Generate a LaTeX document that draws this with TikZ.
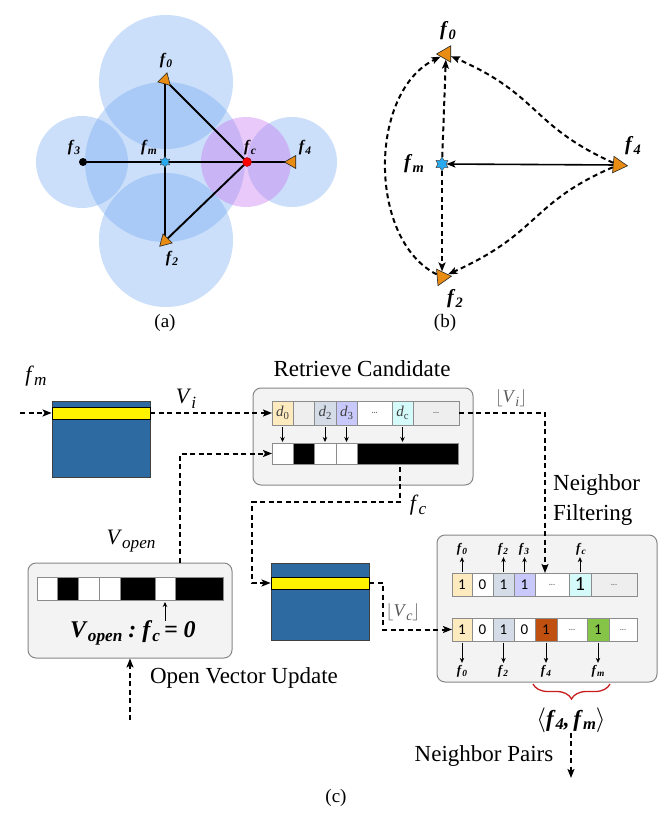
\documentclass[tikz,border=0pt]{standalone}
\usepackage{fontspec}
\setmainfont{Liberation Serif}
\newfontfamily\cellfont{Carlito}
\usetikzlibrary{shapes.geometric,arrows.meta,decorations.pathreplacing}
\definecolor{boxblue}{RGB}{46,106,162}
\definecolor{cirblue}{RGB}{100,160,240}
\definecolor{cirpurp}{RGB}{200,120,240}
\definecolor{triorange}{RGB}{232,140,20}
\definecolor{starblue}{RGB}{40,170,240}
\definecolor{panelgray}{RGB}{243,243,243}
\definecolor{paneledge}{RGB}{135,135,135}
\definecolor{cyel}{RGB}{253,234,190}
\definecolor{cgray}{RGB}{238,238,238}
\definecolor{cblue}{RGB}{212,220,232}
\definecolor{clav}{RGB}{200,200,250}
\definecolor{ccyan}{RGB}{212,250,250}
\definecolor{corange}{RGB}{192,80,16}
\definecolor{cgreen}{RGB}{134,196,72}
\definecolor{bracered}{RGB}{200,30,30}
\newcommand{\myBI}[2]{\textbf{\textit{#1}}\raisebox{-0.35ex}{\scalebox{0.72}{\textbf{\textit{#2}}}}}
\newcommand{\myIt}[2]{\textit{#1}\raisebox{-0.45ex}{\scalebox{0.78}{\textit{#2}}}}
\newcommand{\myDd}[1]{\textit{d}\raisebox{-0.4ex}{\scalebox{0.72}{#1}}}
\newcommand{\myDots}{{\color{black!55}\fontsize{8}{8}\selectfont\textbf{...}}}
\pgfdeclarelayer{backl}
\pgfdeclarelayer{midl}
\pgfsetlayers{backl,midl,main}
\begin{document}
\begin{tikzpicture}[x=1pt,y=-1pt,
  cir/.style={fill=cirblue,fill opacity=0.33,draw=none},
  edgeA/.style={line width=1.9pt,black},
  tri/.style={regular polygon,regular polygon sides=3,fill=triorange,draw=black!85,line width=0.6pt,inner sep=0pt},
  hexstar/.style={star,star points=6,star point ratio=1.7,fill=starblue,draw=black!70,line width=0.5pt,inner sep=0pt},
  dashln/.style={black,dash pattern=on 5pt off 3.5pt,line width=2pt},
  arrw/.style={-{Stealth[length=9pt,width=7pt,inset=2pt]}},
  sarrw/.style={-{Stealth[length=5pt,width=4.5pt]},line width=0.8pt},
  lab/.style={inner sep=0pt},
  fa/.style={lab,font=\fontsize{16}{16}\selectfont},
  fb/.style={lab,font=\fontsize{20}{20}\selectfont},
  fn/.style={lab,font=\fontsize{13}{13}\selectfont},
  biglab/.style={lab,font=\fontsize{23}{23}\selectfont},
  midlab/.style={lab,font=\fontsize{22}{22}\selectfont},
  caplab/.style={lab,font=\fontsize{19}{19}\selectfont},
  cellnd/.style={draw=black!45,line width=0.6pt,inner sep=0pt,outer sep=0pt,font=\cellfont\fontsize{15}{15}\selectfont},
  panel/.style={draw=paneledge,fill=panelgray,line width=1pt,rounded corners=8pt,inner sep=0pt},
  bluebox/.style={draw=black!75,fill=boxblue,line width=0.8pt,inner sep=0pt},
  stripe/.style={draw=black,fill=yellow,line width=0.8pt,inner sep=0pt}
]
\useasboundingbox (0,0) rectangle (670,822);

% ---------------- (a) ----------------
\begin{pgfonlayer}{backl}
\fill[white] (0,0) rectangle (670,822);
\fill[cir] (166,82) circle (67pt);
\fill[cir] (165,162) circle (80pt);
\fill[cir] (166,240) circle (67pt);
\fill[cir] (82,162) circle (46pt);
\fill[cir] (292,162) circle (45pt);
\fill[fill=cirpurp,fill opacity=0.4] (246,162) circle (45pt);
\end{pgfonlayer}
\node[tri,minimum size=15pt,rotate=-15] (a0) at (165,80) {};
\node[hexstar,minimum size=11pt] (am) at (165,162) {};
\node[circle,fill=black,inner sep=0pt,minimum size=8pt] (a3) at (83,162) {};
\node[circle,fill=red,draw=red!60!black,line width=0.4pt,inner sep=0pt,minimum size=9pt] (ac) at (247,162) {};
\node[tri,minimum size=15pt,rotate=-30] (a4) at (292,162) {};
\node[tri,minimum size=15pt,rotate=15] (a2) at (165,241) {};
\begin{pgfonlayer}{midl}
\draw[edgeA] (a3.center) -- (a4.center);
\draw[edgeA] (a0.center) -- (a2.center);
\draw[edgeA] (a0.center) -- (ac.center) -- (a2.center);
\end{pgfonlayer}
\node[fa] (la0) at (166,61) {\myBI{f}{0}};
\node[fa] (la3) at (74,148) {\myBI{f}{3}};
\node[fa] (lam) at (149,148) {\myBI{f}{m}};
\node[fa] (lac) at (250,148) {\myBI{f}{c}};
\node[fa] (la4) at (305,148) {\myBI{f}{4}};
\node[fa] (la2) at (172,259) {\myBI{f}{2}};
\node[caplab] (capa) at (165,323) {(a)};

% ---------------- (b) ----------------
\node[tri,minimum size=19pt,rotate=-30] (b0) at (446,54) {};
\node[hexstar,minimum size=14pt] (bm) at (442,164) {};
\node[tri,minimum size=19pt,rotate=25] (b4) at (618,165) {};
\node[tri,minimum size=19pt,rotate=35] (b2) at (442,277) {};
\draw[line width=1.6pt,arrw] (b4) -- (bm);
\draw[dashln,arrw] (bm) -- (b0);
\draw[dashln,arrw] (bm) -- (b2);
\draw[dashln,arrw] (b4) .. controls (530,125) and (540,95) .. (b0);
\draw[dashln,arrw] (b4) .. controls (530,203) and (540,233) .. (b2);
\draw[dashln,arrw] (b2) .. controls (368,240) and (368,92) .. (b0);
\node[fb] (lb0) at (448,31) {\myBI{f}{0}};
\node[fb] (lbm) at (414,164) {\myBI{f}{m}};
\node[fb] (lb4) at (633,146) {\myBI{f}{4}};
\node[fb] (lb2) at (455,299) {\myBI{f}{2}};
\node[caplab] (capb) at (445,323) {(b)};

% ---------------- (c) ----------------
% blue box 1
\node[bluebox,minimum width=98pt,minimum height=76pt] (bb1) at (101,439) {};
\node[stripe,minimum width=98pt,minimum height=12pt] (st1) at (101,413) {};
\coordinate (fmstart) at (20,413);
\draw[dashln,arrw] (fmstart) -- (st1.west);
\node[midlab] (lfm) at (36,376) {\myIt{f}{m}};
\node[midlab] (lvi) at (186,399) {\myIt{V}{i}};

% retrieve candidate
\node[panel,minimum width=220pt,minimum height=97pt] (rbox) at (363,436.5) {};
\node[biglab] (rtitle) at (362,369) {Retrieve Candidate};
\foreach \xa/\xb/\cl/\tx [count=\i] in {272/293/cyel/\myDd{0},293/314/cgray/,314/336/cblue/\myDd{2},336/357/clav/\myDd{3},357/392/white/\myDots,392/413/ccyan/\myDd{c},413/459/cgray/\myDots}{
  \node[cellnd,fill=\cl,minimum width={(\xb-\xa)*1pt},minimum height=24pt,font=\fontsize{15}{15}\selectfont,text=black!75] (rt\i) at ({(\xa+\xb)/2},413) {\tx};
}
\foreach \xa/\xb/\cl [count=\i] in {272/293/white,293/314/black,314/336/white,336/357/white,357/458/black}{
  \node[cellnd,fill=\cl,minimum width={(\xb-\xa)*1pt},minimum height=21pt] (rb\i) at ({(\xa+\xb)/2},453.5) {};
}
\draw[sarrw,shorten <=2pt,shorten >=1pt] (rt1.south) -- (rt1.south |- rb1.north);
\draw[sarrw,shorten <=2pt,shorten >=1pt] (rt3.south) -- (rt3.south |- rb3.north);
\draw[sarrw,shorten <=2pt,shorten >=1pt] (rt4.south) -- (rt4.south |- rb4.north);
\draw[sarrw,shorten <=2pt,shorten >=1pt] (rt6.south) -- (rt6.south |- rb5.north);
\draw[dashln,arrw] (st1.east) -- (rt1.west);
\node[lab,font=\fontsize{18}{18}\selectfont,text=black!65] (lvif) at (511,398) {$\lfloor$\myIt{V}{i}$\rfloor$};

% open vector box
\node[panel,minimum width=204pt,minimum height=95pt] (obox) at (130,610.5) {};
\foreach \xa/\xb/\cl [count=\i] in {37/57/white,57/78/black,78/99/white,99/120/white,120/155/black,155/175/white,175/223/black}{
  \node[cellnd,fill=\cl,minimum width={(\xb-\xa)*1pt},minimum height=23pt] (ob\i) at ({(\xa+\xb)/2},588.5) {};
}
\node[lab,font=\fontsize{24}{24}\selectfont] (oform) at (133,633) {\myBI{V}{open}\ \textbf{\textit{:}}\ \myBI{f}{c}\,\textbf{\textit{= 0}}};
\draw[-{Stealth[length=5pt,width=4.5pt]},line width=0.7pt,shorten >=2pt] (ob6.south |- oform.north) -- (ob6.south);
\node[midlab] (lvo) at (131,541) {\myIt{V}{open}};
\coordinate (openin) at (130,720);
\draw[dashln,arrw] (openin) -- (obox.south);
\node[biglab] (ovu) at (244,678) {Open Vector Update};
\draw[dashln,arrw] ([xshift=50pt]obox.north) |- (rb1.west);

% blue box 2
\node[bluebox,minimum width=98pt,minimum height=77pt] (bb2) at (320,601.5) {};
\node[stripe,minimum width=98pt,minimum height=12pt] (st2) at (320,583) {};
\draw[dashln,arrw] ([xshift=-7.5pt,yshift=-3pt]rb5.south) |- (252,502) |- (st2.west);
\node[midlab] (lfc) at (418,505) {\myIt{f}{c}};

% neighbor filtering
\node[panel,minimum width=220pt,minimum height=147pt] (nbox) at (547,608.5) {};
\node[lab,font=\fontsize{23}{30}\selectfont,align=left,anchor=west] (nftitle) at (553,500) {Neighbor\\Filtering};
\foreach \xa/\xb/\cl/\tx [count=\i] in {452/472/cyel/1,472/493/white/0,493/514/cblue/1,514/535/clav/1,535/569/white/\myDots,569/591/ccyan/{\fontsize{20}{20}\selectfont 1},591/637/cgray/\myDots}{
  \node[cellnd,fill=\cl,minimum width={(\xb-\xa)*1pt},minimum height=23pt] (nt\i) at ({(\xa+\xb)/2},584.5) {\tx};
}
\foreach \xa/\xb/\cl/\tx [count=\i] in {452/472/cyel/1,472/493/white/0,493/514/cblue/1,514/535/white/0,535/557/corange/1,557/587/white/\myDots,587/609/cgreen/1,609/637/white/\myDots}{
  \node[cellnd,fill=\cl,minimum width={(\xb-\xa)*1pt},minimum height=23pt] (nb\i) at ({(\xa+\xb)/2},629.5) {\tx};
}
\node[fn] (nu0) at (462,549) {\myBI{f}{0}};
\node[fn] (nu2) at (503,549) {\myBI{f}{2}};
\node[fn] (nu3) at (524,549) {\myBI{f}{3}};
\node[fn] (nuc) at (581,549) {\myBI{f}{c}};
\draw[sarrw,shorten <=1.5pt,shorten >=2pt] (nt1.north) -- (nt1.north |- nu0.south);
\draw[sarrw,shorten <=1.5pt,shorten >=2pt] (nt3.north) -- (nt3.north |- nu2.south);
\draw[sarrw,shorten <=1.5pt,shorten >=2pt] (nt4.north) -- (nt4.north |- nu3.south);
\draw[sarrw,shorten <=1.5pt,shorten >=2pt] (nt6.north) -- (nt6.north |- nuc.south);
\node[fn] (nd0) at (462,671) {\myBI{f}{0}};
\node[fn] (nd2) at (503,671) {\myBI{f}{2}};
\node[fn] (nd4) at (546,671) {\myBI{f}{4}};
\node[fn] (ndm) at (598,671) {\myBI{f}{m}};
\draw[sarrw,shorten <=1.5pt,shorten >=2pt] (nb1.south) -- (nb1.south |- nd0.north);
\draw[sarrw,shorten <=1.5pt,shorten >=2pt] (nb3.south) -- (nb3.south |- nd2.north);
\draw[sarrw,shorten <=1.5pt,shorten >=2pt] (nb5.south) -- (nb5.south |- nd4.north);
\draw[sarrw,shorten <=1.5pt,shorten >=2pt] (nb7.south) -- (nb7.south |- ndm.north);

\draw[dashln,arrw] (rt7.east) -| ([xshift=-7pt]nt5.north);
\draw[dashln,arrw] (st2.east) -- ++(14,0) |- (nb1.west);
\node[lab,font=\fontsize{18}{18}\selectfont,text=black!65] (lvc) at (403,612) {$\lfloor$\myIt{V}{c}$\rfloor$};

% brace and pairs
\coordinate (brR) at (610,684);
\coordinate (brL) at (533,684);
\draw[bracered,line width=1.3pt,decorate,decoration={brace,amplitude=15pt}] (brR) -- (brL);
\node[lab,font=\fontsize{23}{23}\selectfont] (pairs) at (571,720) {$\langle$\myBI{f}{4}\textbf{\textit{,}}\,\myBI{f}{m}$\rangle$};
\coordinate (pend) at (571,778);
\draw[dashln,arrw] (pairs.south) -- (pend);
\node[biglab] (npairs) at (484,756) {Neighbor Pairs};
\node[caplab] (capc) at (336,798) {(c)};
\end{tikzpicture}
\end{document}
